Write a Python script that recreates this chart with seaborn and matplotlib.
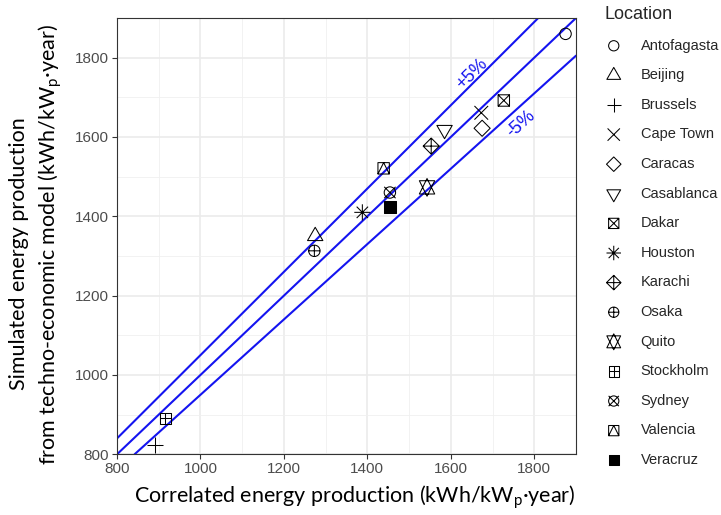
import numpy as np
import pandas as pd
import matplotlib
matplotlib.use("Agg")
import matplotlib.pyplot as plt
from matplotlib.path import Path
from matplotlib.ticker import MultipleLocator
import seaborn as sns

# ---- data -------------------------------------------------------------
locations = ["Antofagasta", "Beijing", "Brussels", "Cape Town", "Caracas",
             "Casablanca", "Dakar", "Houston", "Karachi", "Osaka", "Quito",
             "Stockholm", "Sydney", "Valencia", "Veracruz"]
correlated = [1875, 1275, 890, 1673, 1675, 1585, 1727, 1388, 1553, 1273,
              1543, 916, 1454, 1439, 1454]
simulated = [1860, 1350, 823, 1661, 1622, 1618, 1692, 1410, 1577, 1313,
             1473, 891, 1460, 1521, 1423]

deviation_ratios = [1.05, 1.00, 0.95]
band_labels = ["+5%", "-5%"]
ticks = [800, 1000, 1200, 1400, 1600, 1800]

# ---- R-style point shapes (1..15) built as paths ------------------------
def poly(points):
    verts = list(points) + [points[0]]
    codes = [Path.MOVETO] + [Path.LINETO] * (len(points) - 1) + [Path.CLOSEPOLY]
    return Path(verts, codes)


def seg(p, q):
    return Path([p, q], [Path.MOVETO, Path.LINETO])


def combo(*parts):
    return Path.make_compound_path(*parts)


T0 = np.sqrt(4 * np.pi / (3 * np.sqrt(3)))
T1 = T0 * np.sqrt(3) / 2
T2 = T0 / 2
S2 = np.sqrt(2)

circle = Path.unit_circle()
square = poly([(-1, -1), (1, -1), (1, 1), (-1, 1)])
tri_up = poly([(0, T0), (T1, -T2), (-T1, -T2)])
tri_dn = poly([(0, -T0), (T1, T2), (-T1, T2)])
diamond = poly([(0, S2), (S2, 0), (0, -S2), (-S2, 0)])
plus = combo(seg((-S2, 0), (S2, 0)), seg((0, -S2), (0, S2)))
cross = combo(seg((-1.2, -1.2), (1.2, 1.2)), seg((-1.2, 1.2), (1.2, -1.2)))
cross1 = combo(seg((-1, -1), (1, 1)), seg((-1, 1), (1, -1)))
plus1 = combo(seg((-1, 0), (1, 0)), seg((0, -1), (0, 1)))
ys = 0.5 * (T2 + T0)
star_david = combo(poly([(0, -T0), (T1, ys), (-T1, ys)]),
                   poly([(0, T0), (T1, -ys), (-T1, -ys)]))

shapes = {
    "Antofagasta": circle,
    "Beijing": tri_up,
    "Brussels": plus,
    "Cape Town": cross,
    "Caracas": diamond,
    "Casablanca": tri_dn,
    "Dakar": combo(square, cross1),
    "Houston": combo(cross1, plus),
    "Karachi": combo(diamond, seg((-S2, 0), (S2, 0)), seg((0, -S2), (0, S2))),
    "Osaka": combo(circle, plus1),
    "Quito": star_david,
    "Stockholm": combo(square, plus1),
    "Sydney": combo(circle, cross1),
    "Valencia": combo(square, seg((-1, -1), (0, 1)), seg((0, 1), (1, -1))),
    "Veracruz": square,
}
filled = {"Veracruz"}

UNIT_PT = 4.1  # radius of the circle shape, in points

# ---- figure -------------------------------------------------------------
sns.set_theme(style="white")
plt.rcParams["font.family"] = ["Liberation Sans", "DejaVu Sans"]
plt.rcParams["mathtext.fontset"] = "custom"
plt.rcParams["mathtext.rm"] = "Lato"
plt.rcParams["mathtext.it"] = "Lato:italic"

fig = plt.figure(figsize=(7.21, 5.15), dpi=100)
ax = fig.add_axes([117 / 721, 1 - 454.3 / 515, 459 / 721, 436.3 / 515])

df = pd.DataFrame({"Location": locations,
                   "Correlated": correlated,
                   "Simulated": simulated})

# reference lines y = r * x
blue = "#1414F0"
for r in deviation_ratios:
    ax.axline((0, 0), slope=r, color=blue, lw=1.5, zorder=2)

for loc in locations:
    path = shapes[loc]
    ms = 2 * np.abs(path.vertices).max() * UNIT_PT
    sub = df[df["Location"] == loc]
    sns.scatterplot(data=sub, x="Correlated", y="Simulated", ax=ax,
                    marker=path, s=ms ** 2,
                    facecolor="black" if loc in filled else "none",
                    edgecolor="black", linewidth=0.75, label=loc,
                    legend=False, zorder=3)

ax.text(1650, 1758, band_labels[0], color=blue, fontsize=13, rotation=44.5,
        ha="center", va="center")
ax.text(1768, 1634, band_labels[1], color=blue, fontsize=13, rotation=42,
        ha="center", va="center")

ax.set_xlim(800, 1900)
ax.set_ylim(800, 1900)
ax.set_xticks(ticks)
ax.set_yticks(ticks)
ax.xaxis.set_minor_locator(MultipleLocator(100))
ax.yaxis.set_minor_locator(MultipleLocator(100))
ax.grid(which="major", color="#EBEBEB", lw=1.2)
ax.grid(which="minor", color="#F0F0F0", lw=0.6)
ax.set_axisbelow(True)
for sp in ax.spines.values():
    sp.set_color("#333333")
    sp.set_linewidth(0.8)
ax.tick_params(which="major", length=3.5, width=0.8, color="#333333",
               labelcolor="#4D4D4D", labelsize=11, pad=2,
               bottom=True, left=True)
ax.tick_params(which="minor", length=0)

label_font = dict(family=["Lato", "DejaVu Sans"], fontsize=15.5, color="black")
ax.set_xlabel("Correlated energy production (kWh/kW$_\\mathrm{p}$·year)",
              **label_font)
ax.xaxis.set_label_coords(0.517, -0.099)
ax.xaxis.label.set_va("center")
ax.set_ylabel("Simulated energy production", **label_font)
ax.yaxis.set_label_coords(-0.213, 0.461)
ax.yaxis.label.set_va("center")
ax.text(-0.145, 0.480,
        "from techno-economic model (kWh/kW$_\\mathrm{p}$·year)",
        transform=ax.transAxes, rotation=90, ha="center", va="center",
        **label_font)

leg = ax.legend(title="Location", loc="upper left",
                bbox_to_anchor=(605 / 721, 1 - 6 / 515),
                bbox_transform=fig.transFigure, frameon=False,
                fontsize=10.5, title_fontsize=13, alignment="left",
                handlelength=1.2, handletextpad=1.25, labelspacing=1.07,
                borderaxespad=0, borderpad=0, markerscale=0.9,
                scatterpoints=1)

fig.savefig("out.png", dpi=100)
